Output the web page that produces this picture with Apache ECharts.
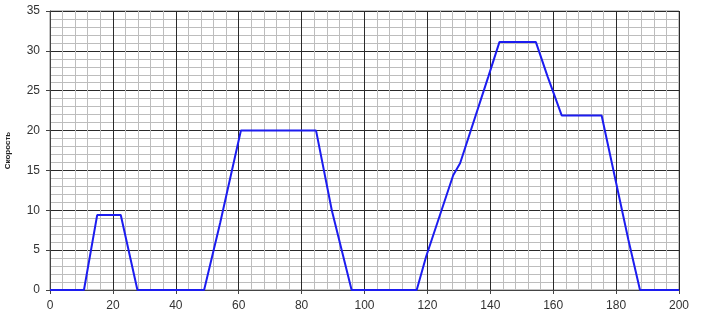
<!DOCTYPE html>
<html>
<head>
<meta charset="utf-8">
<script src="https://cdn.jsdelivr.net/npm/echarts@6/dist/echarts.min.js"></script>
<style>html,body{margin:0;padding:0;background:#fff}#c{width:702px;height:320px}</style>
</head>
<body>
<div id="c"></div>
<script>
const timeValues  = [0, 10.8, 15.0, 22.5, 27.8, 49.0, 54.1, 60.7, 84.6, 89.6, 95.9, 116.6, 119.6, 128.2, 130.4, 139.4, 142.9, 154.5, 158.2, 162.7, 175.4, 183.9, 187.6, 200];
const speedValues = [0, 0, 9.4, 9.4, 0, 0, 8.4, 20, 20, 10, 0, 0, 4.2, 14.4, 15.9, 26.8, 31.1, 31.1, 26.8, 21.9, 21.9, 6.3, 0, 0];
const yAxisName = 'Скорость';

const chart = echarts.init(document.getElementById('c'));
chart.setOption({
  animation: false,
  grid: {left: 50, right: 23, top: 11, bottom: 30, show: true, borderColor: '#888', borderWidth: 1, containLabel: false, outerBoundsMode: 'none'},
  xAxis: {
    type: 'value', min: 0, max: 200, interval: 20,
    axisLine: {show: true, lineStyle: {color: '#444'}},
    axisTick: {show: true, length: 4, lineStyle: {color: '#444'}},
    axisLabel: {color: '#333', fontSize: 12, fontFamily: 'Liberation Sans, Arial', margin: 10},
    splitLine: {show: true, lineStyle: {color: '#2a2a2a', width: 1}},
    minorTick: {show: false, splitNumber: 5},
    minorSplitLine: {show: true, lineStyle: {color: '#bdbdbd', width: 1}}
  },
  yAxis: {
    type: 'value', min: 0, max: 35, interval: 5,
    name: yAxisName, nameLocation: 'middle', nameGap: 38,
    nameTextStyle: {fontSize: 8, color: '#222', fontWeight: 'bold', fontFamily: 'Liberation Sans, Arial'},
    axisLine: {show: true, lineStyle: {color: '#444'}},
    axisTick: {show: true, length: 4, lineStyle: {color: '#444'}},
    axisLabel: {color: '#333', fontSize: 12, fontFamily: 'Liberation Sans, Arial', margin: 10},
    splitLine: {show: true, lineStyle: {color: '#2a2a2a', width: 1}},
    minorTick: {show: false, splitNumber: 5},
    minorSplitLine: {show: true, lineStyle: {color: '#bdbdbd', width: 1}}
  },
  series: [{
    type: 'line',
    data: timeValues.map((t, i) => [t, speedValues[i]]),
    showSymbol: false,
    lineStyle: {color: '#1c1cf0', width: 2},
    z: 5
  }]
});
</script>
</body>
</html>
